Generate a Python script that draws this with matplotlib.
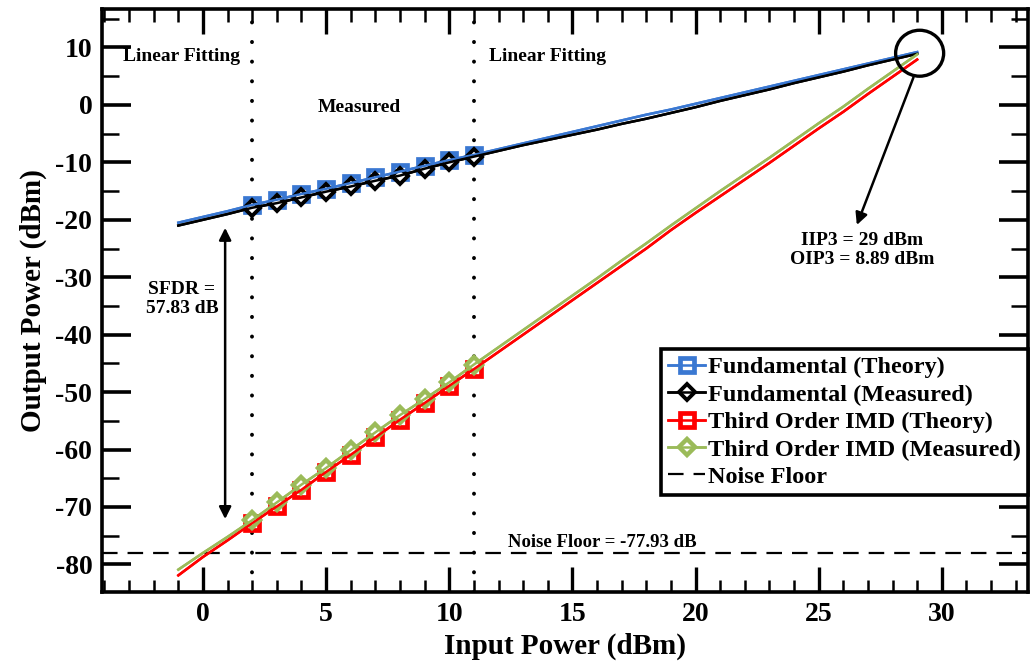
import matplotlib
matplotlib.use("Agg")
import matplotlib.pyplot as plt
from matplotlib.patches import Ellipse
from matplotlib.legend_handler import HandlerTuple
from matplotlib.ticker import MultipleLocator

plt.rcParams['font.family'] = ['Liberation Serif', 'DejaVu Serif']
plt.rcParams['font.weight'] = 'bold'
plt.rcParams['axes.unicode_minus'] = False

# ---------------- data ----------------
x_in = [-1, 0, 1, 2, 3, 4, 5, 6, 7, 8, 9, 10, 11, 12, 13, 14, 15, 16, 17, 18,
        19, 20, 21, 22, 23, 24, 25, 26, 27, 28, 29]
fund_theory = [-20.5, -19.5, -18.5, -17.4, -16.5, -15.5, -14.6, -13.6, -12.6,
               -11.6, -10.6, -9.6, -8.7, -7.7, -6.7, -5.7, -4.7, -3.7, -2.7,
               -1.7, -0.8, 0.2, 1.2, 2.2, 3.2, 4.2, 5.2, 6.2, 7.2, 8.2, 9.2]
fund_meas = [-21.0, -20.0, -19.0, -17.9, -17.1, -16.1, -15.1, -14.2, -13.2,
             -12.3, -11.1, -10.0, -9.0, -8.0, -7.0, -6.1, -5.2, -4.3, -3.3,
             -2.4, -1.4, -0.4, 0.7, 1.7, 2.7, 3.8, 4.8, 5.8, 6.9, 7.9, 8.9]
imd_theory = [-81.9, -78.7, -75.8, -72.8, -69.9, -67.0, -63.9, -60.9, -57.9,
              -54.8, -51.9, -48.9, -46.0, -43.0, -40.0, -37.0, -34.0, -31.0,
              -28.0, -25.0, -21.8, -18.8, -15.9, -13.0, -10.1, -7.1, -4.1,
              -1.2, 1.9, 4.9, 7.9]
imd_meas = [-80.9, -78.0, -75.2, -72.3, -69.2, -66.1, -63.2, -60.1, -57.0,
            -54.0, -51.2, -48.3, -45.2, -42.2, -39.2, -36.2, -33.2, -30.2,
            -27.1, -24.1, -21.0, -18.0, -15.0, -12.1, -9.2, -6.2, -3.2,
            -0.3, 2.8, 5.8, 8.8]
noise_floor = -77.93
fit_bounds = [2, 11]
iip3 = 29
oip3 = 8.89
sfdr = 57.83
sfdr_top = -21.4
sfdr_bottom = -72.1

labels = ["Fundamental (Theory)", "Fundamental (Measured)",
          "Third Order IMD (Theory)", "Third Order IMD (Measured)",
          "Noise Floor"]

# ---------------- style ----------------
c_blue = '#3A78D2'
c_black = '#000000'
c_red = '#FF0000'
c_green = '#9BBB59'
lw = 1.8

fig = plt.figure(figsize=(10.3, 6.64), dpi=100)
ax = fig.add_axes([102 / 1030, (664 - 592) / 664, (1028 - 102) / 1030, (592 - 9) / 664])

mark_every = [i for i in range(len(x_in))
              if fit_bounds[0] <= x_in[i] <= fit_bounds[1]]

series = [
    (fund_theory, c_blue, 's', 9.5, 3.4),
    (fund_meas, c_black, 'D', 8.0, 2.8),
    (imd_theory, c_red, 's', 9.5, 3.4),
    (imd_meas, c_green, 'D', 8.5, 3.2),
]
handles = []
for yv, col, m, ms, mew in series:
    h1, = ax.plot(x_in, yv, color=col, lw=lw, marker=m, ms=ms, mew=mew,
                  mfc='white', mec=col, markevery=mark_every, zorder=3)
    h2, = ax.plot(x_in, yv, color=col, lw=lw, zorder=4)
    handles.append((h1, h2))

hn = ax.axhline(noise_floor, color='black', lw=1.6, dashes=(7, 4.5), zorder=2)
handles.append(hn)

for xb in fit_bounds:
    ax.axvline(xb, color='black', lw=2.8, dashes=(0.05, 5.0),
               dash_capstyle='round', zorder=1)

# circle at the intercept point
ax.add_patch(Ellipse((29.1, 9.0), 1.95, 8.0, fill=False, ec='black', lw=2.4, zorder=5))
ax.annotate('', xy=(26.55, -20.9), xytext=(28.85, 4.8),
            arrowprops=dict(arrowstyle='-|>', color='black', lw=1.8,
                            mutation_scale=18, shrinkA=0, shrinkB=0))
ax.text(26.75, -25.2, f"IIP3 = {iip3} dBm\nOIP3 = {oip3} dBm", ha='center',
        va='center', fontsize=14, fontweight='bold', linespacing=1.15)

# SFDR double arrow
ax.annotate('', xy=(0.9, sfdr_top), xytext=(0.9, sfdr_bottom),
            arrowprops=dict(arrowstyle='<|-|>', color='black', lw=1.8,
                            mutation_scale=18, shrinkA=0, shrinkB=0))
ax.text(-0.85, -33.8, f"SFDR =\n{sfdr} dB", ha='center', va='center',
        fontsize=14, fontweight='bold', linespacing=1.15)

ax.text(-0.85, 8.4, "Linear Fitting", ha='center', va='center', fontsize=14, fontweight='bold')
ax.text(14.0, 8.4, "Linear Fitting", ha='center', va='center', fontsize=14, fontweight='bold')
ax.text(6.34, -0.5, "Measured", ha='center', va='center', fontsize=14, fontweight='bold')
ax.text(16.2, -76.2, f"Noise Floor = {noise_floor} dB", ha='center', va='center',
        fontsize=13.5, fontweight='bold')

# axes
ax.set_xlim(-4.1, 33.5)
ax.set_ylim(-84.8, 16.7)
ax.xaxis.set_major_locator(MultipleLocator(5))
ax.xaxis.set_minor_locator(MultipleLocator(1))
ax.yaxis.set_major_locator(MultipleLocator(10))
ax.yaxis.set_minor_locator(MultipleLocator(5))
ax.tick_params(axis='x', which='major', direction='in', length=18, width=2.4,
               top=True, bottom=True, labelsize=20, pad=7)
ax.tick_params(axis='x', which='minor', direction='in', length=9, width=1.8,
               top=True, bottom=True)
ax.tick_params(axis='y', which='major', direction='in', length=21, width=2.6,
               left=True, right=True, labelsize=20, pad=7)
ax.tick_params(axis='y', which='minor', direction='in', length=12, width=1.8,
               left=True, right=True)
for lab in ax.get_xticklabels() + ax.get_yticklabels():
    lab.set_fontweight('bold')
for s in ax.spines.values():
    s.set_linewidth(2.6)

ax.set_xlabel("Input Power (dBm)", fontsize=21, fontweight='bold', labelpad=4)
ax.set_ylabel("Output Power (dBm)", fontsize=21, fontweight='bold', labelpad=6)

leg = ax.legend(handles, labels, loc='lower right', bbox_to_anchor=(1.0, 0.166),
                borderaxespad=0, handlelength=1.5, handletextpad=0.12,
                labelspacing=0.22, borderpad=0.3, fancybox=False, framealpha=1,
                edgecolor='black', prop={'weight': 'bold', 'size': 17.5},
                handler_map={tuple: HandlerTuple(ndivide=1)})
leg.get_frame().set_linewidth(2.6)
leg.set_zorder(10)

fig.savefig("out.png", dpi=100)
